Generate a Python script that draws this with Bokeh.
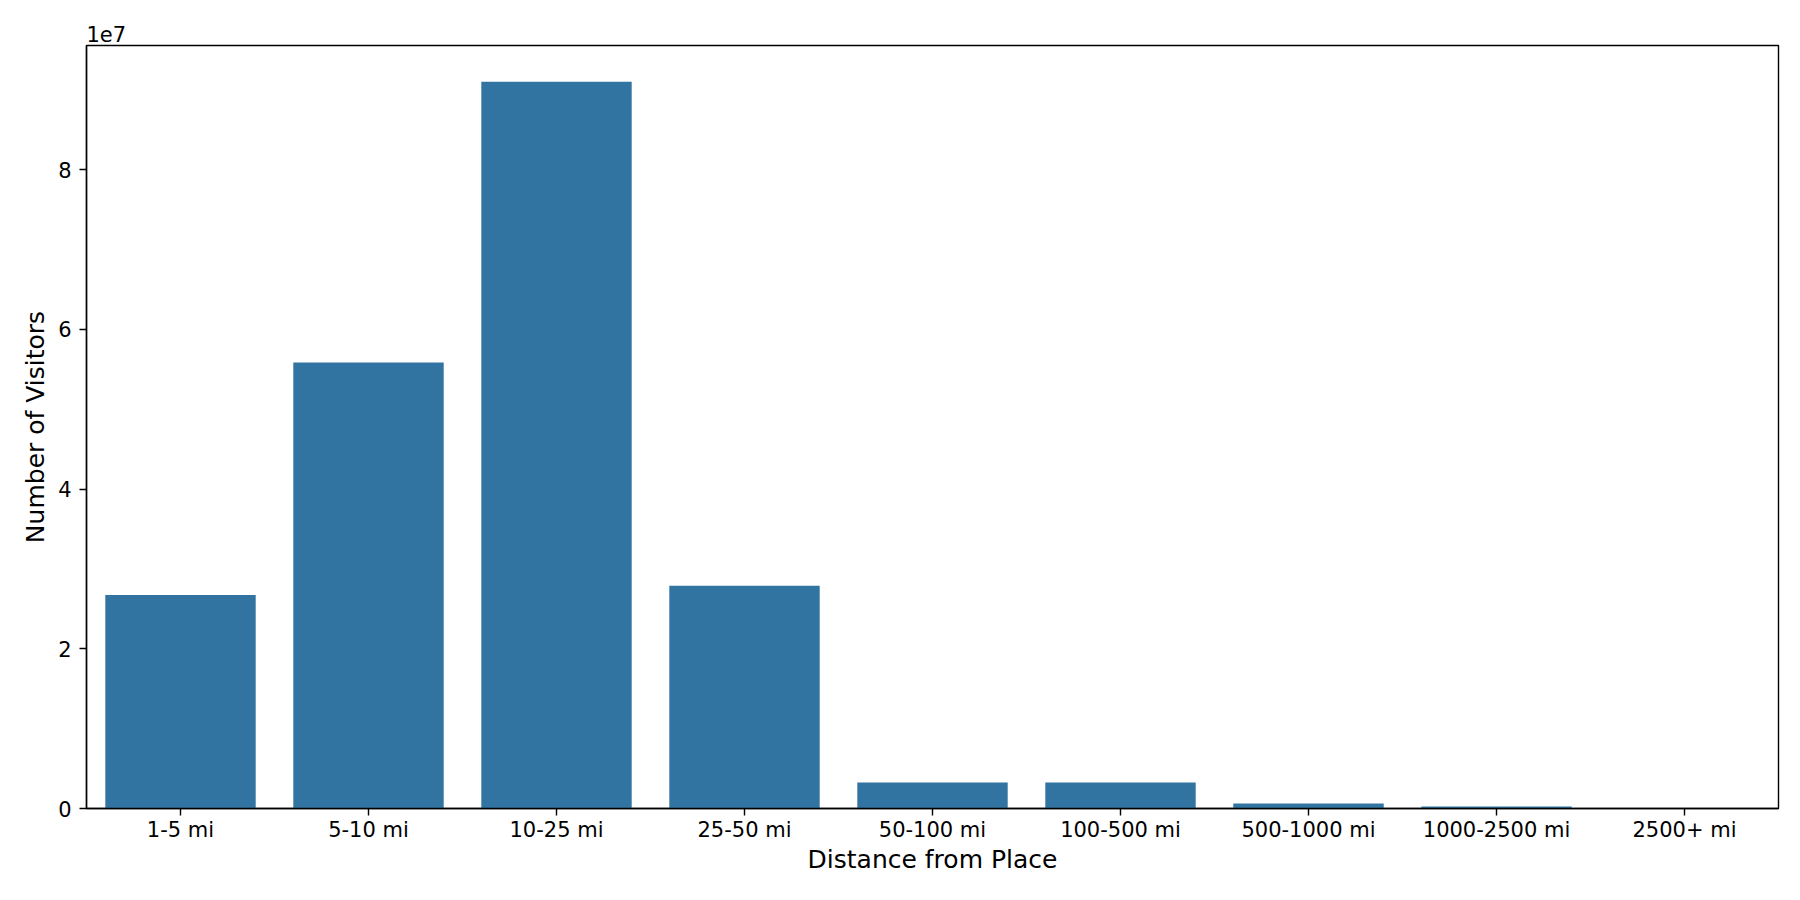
from bokeh.plotting import figure
from bokeh.models import (FactorRange, Range1d, FixedTicker, CustomJSTickFormatter,
                          Title, ColumnDataSource)
from bokeh.embed import file_html
from bokeh.resources import INLINE

# ---- data ----
categories = ["1-5 mi", "5-10 mi", "10-25 mi", "25-50 mi", "50-100 mi",
              "100-500 mi", "500-1000 mi", "1000-2500 mi", "2500+ mi"]
visitors = [26_750_000, 55_850_000, 91_000_000, 27_900_000, 3_270_000,
            3_270_000, 630_000, 250_000, 50_000]
y_ticks = [0, 20_000_000, 40_000_000, 60_000_000, 80_000_000]
y_scale_text = "1e7"
x_label = "Distance from Place"
y_label = "Number of Visitors"

BAR_COLOR = "#3274a1"
FONT = "DejaVu Sans"

src = ColumnDataSource(data=dict(cat=categories, val=visitors))
ymax = max(visitors) * 1.05

p = figure(x_range=FactorRange(*categories, range_padding=0),
           y_range=Range1d(0, ymax),
           width=1792, height=892,
           output_backend="svg", toolbar_location=None,
           min_border_left=86, min_border_right=14,
           min_border_top=45, min_border_bottom=84,
           background_fill_color="white", border_fill_color="white")

p.vbar(x="cat", top="val", width=0.8, source=src,
       fill_color=BAR_COLOR, line_color=None)

p.xgrid.visible = False
p.ygrid.visible = False
p.outline_line_color = "black"
p.outline_line_width = 1.4

for ax in (p.xaxis[0], p.yaxis[0]):
    ax.axis_line_color = "black"
    ax.axis_line_width = 1.4
    ax.major_tick_line_color = "black"
    ax.major_tick_line_width = 1.4
    ax.major_tick_out = 7
    ax.major_tick_in = 0
    ax.minor_tick_line_color = None
    ax.major_label_text_font = FONT
    ax.major_label_text_font_size = "21px"
    ax.major_label_text_color = "black"
    ax.axis_label_text_font = FONT
    ax.axis_label_text_font_size = "25px"
    ax.axis_label_text_font_style = "normal"
    ax.axis_label_text_color = "black"

p.xaxis.axis_label = x_label
p.xaxis.major_label_standoff = 2
p.xaxis.axis_label_standoff = 0

p.yaxis.axis_label = y_label
p.yaxis.ticker = FixedTicker(ticks=y_ticks)
p.yaxis.formatter = CustomJSTickFormatter(code="return (tick/1e7).toFixed(0);")
p.yaxis.major_label_standoff = 8
p.yaxis.axis_label_standoff = 5

scale_title = Title(text=y_scale_text, align="left", text_font=FONT,
                    text_font_size="21px", text_font_style="normal",
                    text_color="black", standoff=7, offset=0)
p.add_layout(scale_title, "above")

open("out.html", "w").write(file_html(p, INLINE))
